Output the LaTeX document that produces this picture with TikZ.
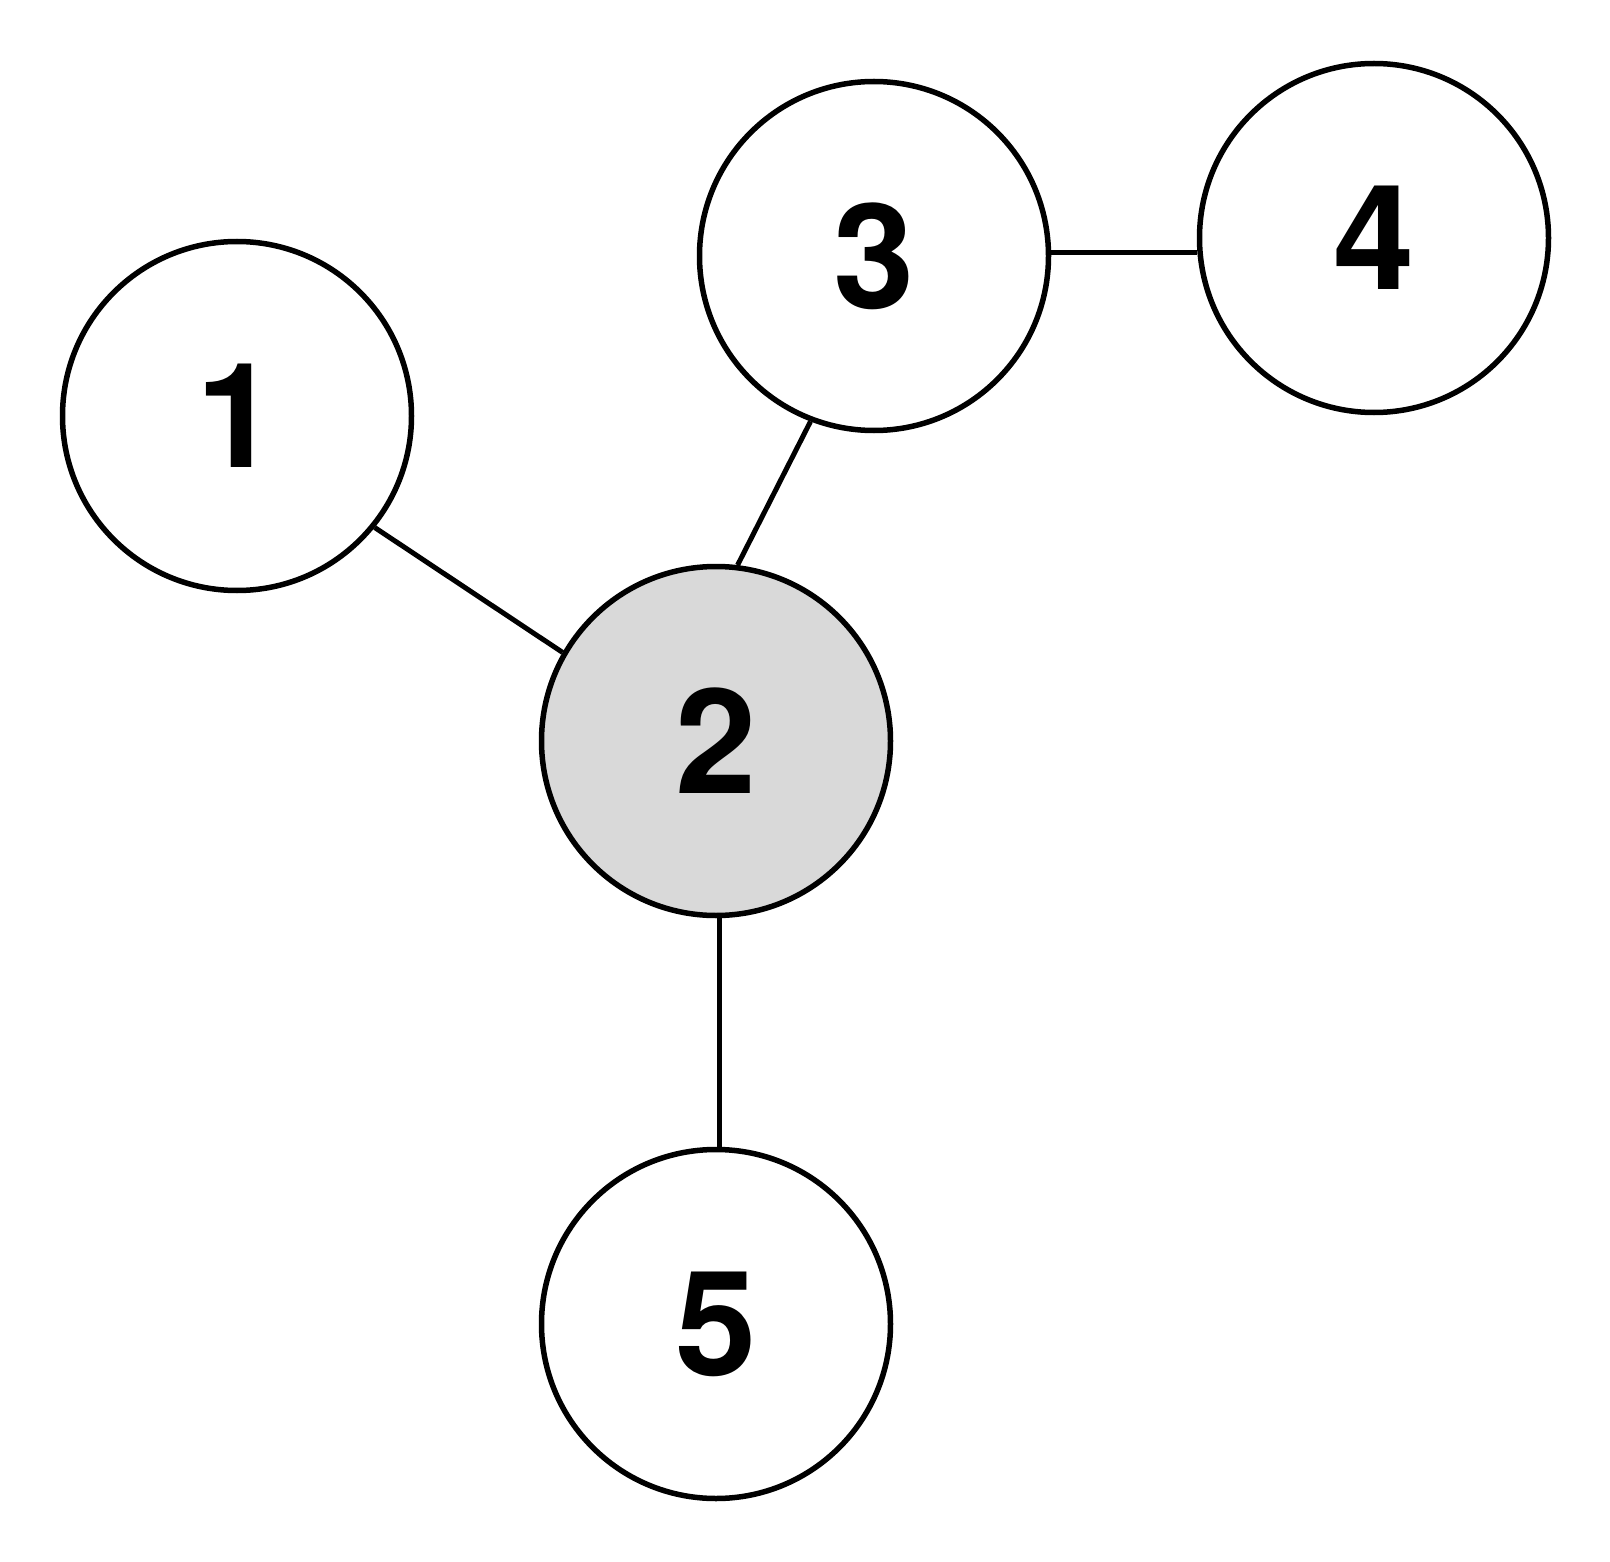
\documentclass[tikz,border=0pt]{standalone}
\usepackage{fontspec}
\setmainfont{TeX Gyre Heros}
\definecolor{hub}{HTML}{D9D9D9}
\begin{document}
\begin{tikzpicture}[x=1pt,y=-1pt,
  vertex/.style={circle,draw=black,line width=5.5pt,fill=white,minimum size=349pt,inner sep=0pt,
    font=\fontsize{146}{146}\selectfont\bfseries},
  edge/.style={line width=5pt,black}]
\useasboundingbox[fill=white] (0,0) rectangle (1610,1562);
\node[vertex] (n1) at (237,416) {1};
\node[vertex,fill=hub] (n2) at (716,741) {2};
\node[vertex] (n3) at (874,256) {3};
\node[vertex] (n4) at (1374,238) {4};
\node[vertex] (n5) at (716,1324) {5};
\coordinate (e34) at (n3.1.3);
\draw[edge] (n1.-39) -- (n2.150.5);
\draw[edge] (n3.-111) -- (n2.83);
\draw[edge] (e34) -- (e34 -| n4.west);
\draw[edge] (n2.-89) -- (n5.89);
\end{tikzpicture}
\end{document}
